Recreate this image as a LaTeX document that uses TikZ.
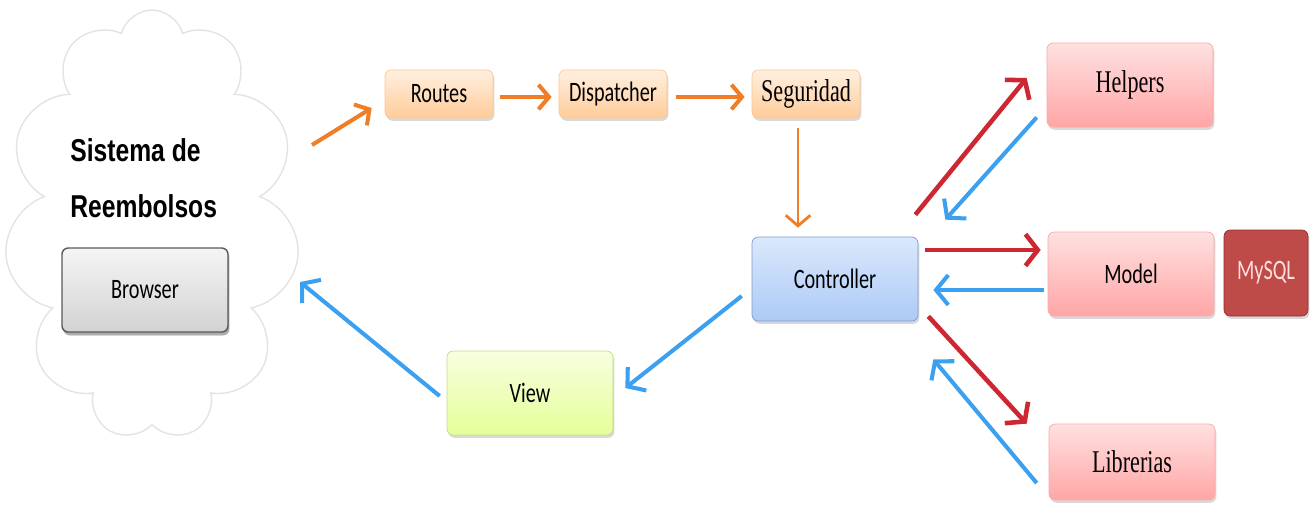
\documentclass[tikz,border=0pt]{standalone}
\usepackage{fontspec}
\newfontfamily\boxfont[FakeStretch=0.72]{Carlito}
\newfontfamily\serfont[FakeStretch=0.7]{Liberation Serif}
\newfontfamily\titfont[FakeStretch=0.78]{Liberation Sans}
\usetikzlibrary{shapes.symbols,shadows,arrows.meta}
\definecolor{naranjaF}{RGB}{240,125,40}
\definecolor{rojoF}{RGB}{205,40,50}
\definecolor{azulF}{RGB}{60,160,240}
\definecolor{azulA}{RGB}{218,232,252}
\definecolor{azulB}{RGB}{172,202,246}
\definecolor{azulL}{RGB}{125,155,205}
\definecolor{mysqlF}{RGB}{190,75,72}
\definecolor{mysqlL}{RGB}{145,45,45}
\begin{document}
\begin{tikzpicture}[x=0.02cm,y=-0.02cm]
	\tikzstyle{caja}=[rectangle,rounded corners=3.5pt,minimum width=3.32cm,minimum height=1.68cm,drop shadow={opacity=0.3,shadow xshift=0.8pt,shadow yshift=-1.6pt},font=\boxfont\fontsize{16}{18}\selectfont]
	\tikzstyle{paso}=[caja,minimum width=2.16cm,minimum height=0.96cm,top color=orange!12,bottom color=orange!40,draw=orange!45]
	\tikzstyle{rosa}=[caja,top color=red!12,bottom color=red!35,draw=red!35]
	\tikzstyle{naranja}=[draw=naranjaF,line width=2.3pt,-{Straight Barb[length=6pt,width=14pt]}]
	\tikzstyle{rojo}=[draw=rojoF,line width=2.6pt,-{Straight Barb[length=7pt,width=18pt]}]
	\tikzstyle{azul}=[draw=azulF,line width=2.3pt,-{Straight Barb[length=7pt,width=17pt]}]
	\useasboundingbox (0,0) rectangle (1310,512);
	
	\node[cloud,cloud puffs=11,cloud ignores aspect,draw=gray!22,line width=0.8pt,minimum width=5.9cm,minimum height=8.6cm] (nube) at (152,225) {};
	\node[anchor=north west,inner sep=0pt,align=left,font=\titfont\bfseries\fontsize{18}{32}\selectfont] (titulo) at (70,138) {Sistema de\\Reembolsos};
	\node[caja,top color=gray!8,bottom color=gray!35,draw=gray!70!black,line width=0.8pt,drop shadow={opacity=0.5,shadow xshift=0.8pt,shadow yshift=-2pt}] (browser) at (145,290) {Browser};
	
	\node[paso] (routes) at (439,94) {Routes};
	\node[paso] (dispatcher) at (613,94) {Dispatcher};
	\node[paso,font=\serfont\fontsize{18}{20}\selectfont] (seguridad) at (806,94) {Seguridad};
	
	\node[caja,top color=azulA,bottom color=azulB,draw=azulL] (controller) at (835,279) {Controller};
	\node[caja,top color=lime!12,bottom color=lime!40,draw=lime!50!gray!60] (view) at (530,393) {View};
	
	\node[rosa,font=\serfont\fontsize{18}{20}\selectfont] (helpers) at (1130,85) {Helpers};
	\node[rosa] (model) at (1131,274) {Model};
	\node[caja,minimum width=1.68cm,minimum height=1.72cm,fill=mysqlF,draw=mysqlL,text=white!88!red] (mysql) at (1266,273) {MySQL};
	\node[rosa,minimum height=1.52cm,font=\serfont\fontsize{18}{20}\selectfont] (librerias) at (1132,462) {Librerias};
	
	\path
	([shift={(160,-80)}]nube.center) edge[naranja] ([shift={(-13,14)}]routes.west)
	([shift={(7,3)}]routes.east) edge[naranja] ([shift={(-7,3)}]dispatcher.west)
	([shift={(9,3)}]dispatcher.east) edge[naranja] ([shift={(-7,3)}]seguridad.west)
	([shift={(-8,10)}]seguridad.south) edge[naranja,line width=1.6pt] ([shift={(-37,-9)}]controller.north)
	([shift={(-3,-22)}]controller.north east) edge[rojo] ([shift={(-20,-7)}]helpers.west)
	([shift={(-10,-10)}]helpers.south west) edge[azul] ([shift={(27,-17)}]controller.north east)
	([shift={(7,-29)}]controller.east) edge[rojo] ([shift={(-7,-24)}]model.west)
	([shift={(-4,16)}]model.west) edge[azul] ([shift={(15,11)}]controller.east)
	([shift={(10,-5)}]controller.south east) edge[rojo] ([shift={(-22,0)}]librerias.north west)
	([shift={(-12,21)}]librerias.west) edge[azul] ([shift={(15,38)}]controller.south east)
	([shift={(-10,17)}]controller.west) edge[azul] ([shift={(12,-5)}]view.east)
	([shift={(-7,3)}]view.west) edge[azul] ([shift={(148,57)}]nube.center)
	;
\end{tikzpicture}
\end{document}
